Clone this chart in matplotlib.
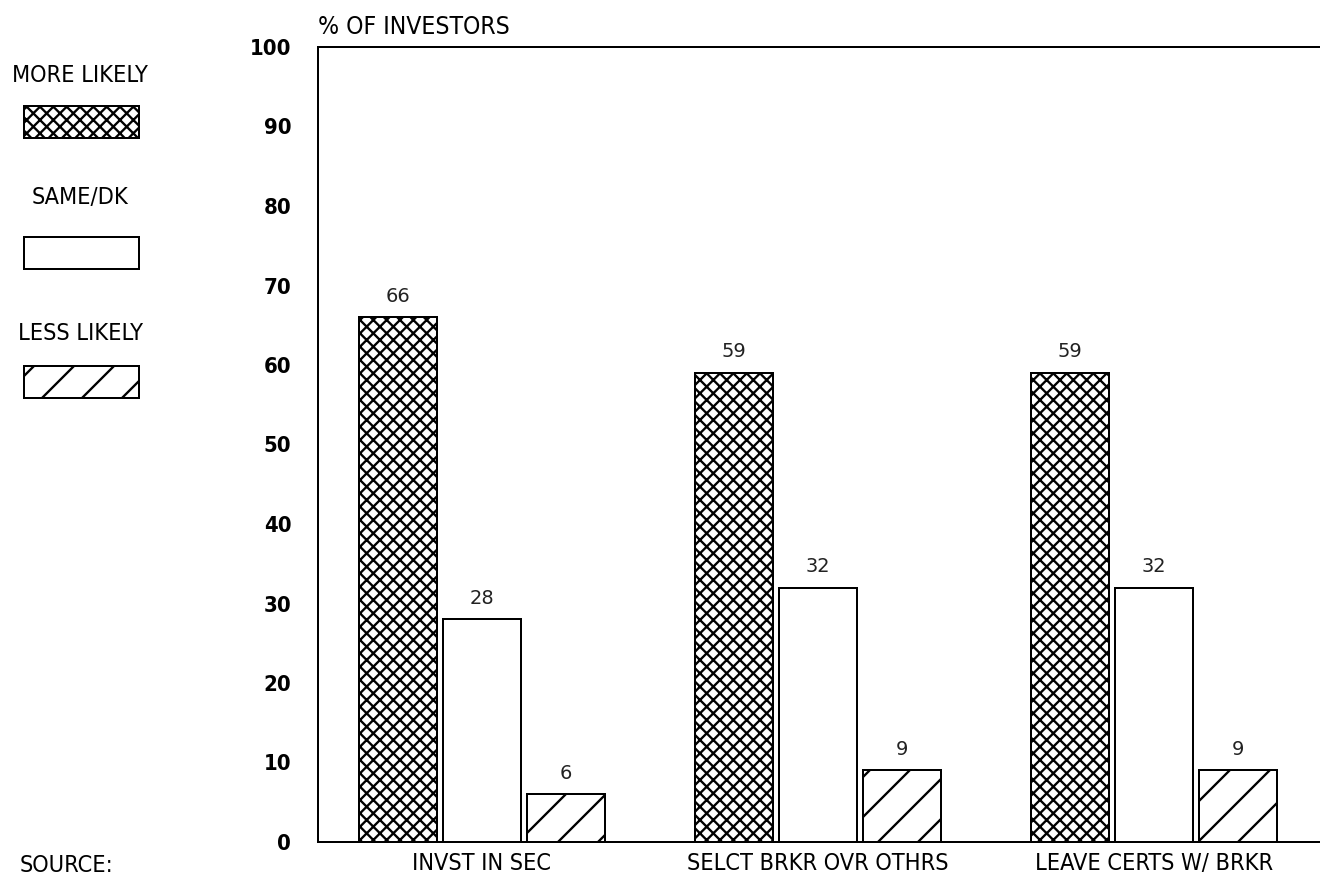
import matplotlib.pyplot as plt
from matplotlib.patches import Rectangle
import numpy as np

categorias = ["INVST IN SEC", "SELCT BRKR OVR OTHRS", "LEAVE CERTS W/ BRKR"]
mais_provavel = [66, 59, 59]
igual_nsabe = [28, 32, 32]
menos_provavel = [6, 9, 9]
series = ["MORE LIKELY", "SAME/DK", "LESS LIKELY"]
yticks = [0, 10, 20, 30, 40, 50, 60, 70, 80, 90, 100]

DPI = 240
plt.rcParams["hatch.linewidth"] = 0.7
plt.rcParams["hatch.color"] = "black"
FONTE = "DejaVu Sans"
TAM = 7.0
ESTICA = "condensed"

fig = plt.figure(figsize=(1320 / DPI, 875 / DPI), dpi=DPI)
ax = fig.add_axes([318 / 1320, 1 - 842 / 875, 1 - 318 / 1320, (842 - 47) / 875])

x = np.arange(len(categorias))
largura = 0.232
desloc = 0.25
hatches = ["xxxxxx", "", "//"]
valores = [mais_provavel, igual_nsabe, menos_provavel]

for i, vals in enumerate(valores):
    barras = ax.bar(x + (i - 1) * desloc, vals, largura, color="white",
                    edgecolor="black", linewidth=0.6, hatch=hatches[i])
    ax.bar_label(barras, padding=3.5, fontsize=5.8, family="DejaVu Sans",
                 color="#222222")

ax.set_xlim(-0.488, 2.494)
ax.set_ylim(0, 100)
ax.set_yticks(yticks)
ax.set_yticklabels([str(v) for v in yticks], family=FONTE, fontsize=6.6,
                   fontweight="bold", fontstretch=ESTICA)
ax.set_xticks(x)
ax.set_xticklabels(categorias, family=FONTE, fontsize=TAM, fontstretch=ESTICA)
ax.tick_params(axis="y", length=0, pad=8)
ax.tick_params(axis="x", length=0, pad=3)
ax.spines["right"].set_visible(False)
for s in ["left", "top", "bottom"]:
    ax.spines[s].set_linewidth(0.6)

ax.text(0, 1.01, "% OF INVESTORS", transform=ax.transAxes, ha="left",
        va="bottom", family=FONTE, fontsize=7.4, fontstretch=ESTICA)

# legenda desenhada a mao do lado esquerdo
texto_y = [75, 197, 333]
caixa_y = [138, 269, 398]
for nome, hatch, ty, cy in zip(series, hatches, texto_y, caixa_y):
    fig.text(80 / 1320, 1 - ty / 875, nome, ha="center", va="center",
             family=FONTE, fontsize=TAM, fontstretch=ESTICA)
    fig.patches.append(Rectangle((24 / 1320, 1 - cy / 875), 115 / 1320, 32 / 875,
                                 transform=fig.transFigure, facecolor="white",
                                 edgecolor="black", linewidth=0.6, hatch=hatch))

fig.text(20 / 1320, 1 - 854 / 875, "SOURCE:", ha="left", va="top",
         family=FONTE, fontsize=TAM, fontstretch=ESTICA)

fig.savefig("out.png", dpi=DPI)
plt.close(fig)
